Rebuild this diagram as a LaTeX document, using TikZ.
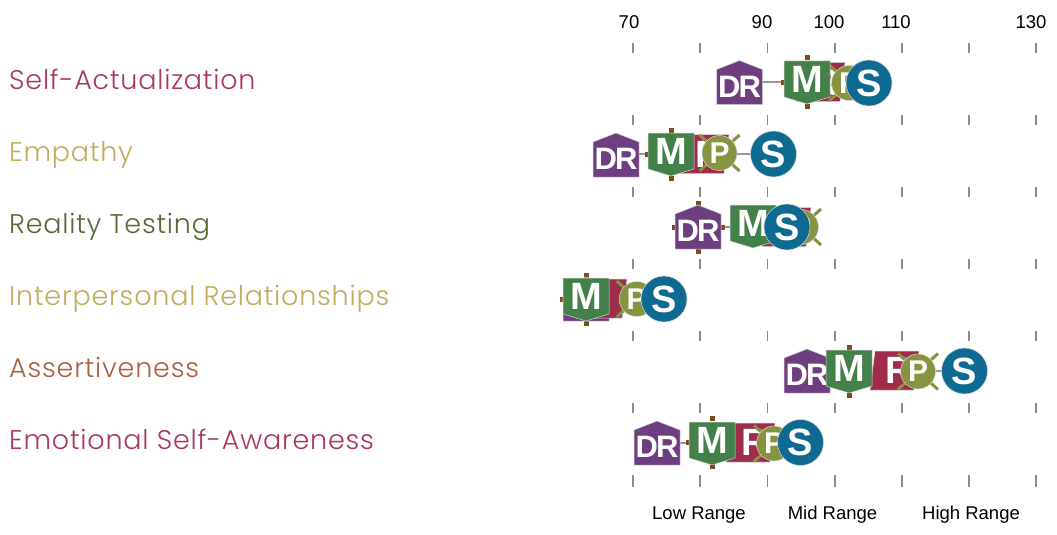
\documentclass[tikz,border=0pt]{standalone}
\usepackage{fontspec}
\setmainfont{Liberation Sans}
\newfontfamily\labfont[UprightFont=* Light,LetterSpace=2.9]{Poppins}
\definecolor{cDR}{HTML}{6E3F80}
\definecolor{cM}{HTML}{43804A}
\definecolor{cR}{HTML}{A02C4B}
\definecolor{cP}{HTML}{87933F}
\definecolor{cS}{HTML}{0F6A92}
\definecolor{cW}{HTML}{7B4D1E}
\definecolor{cRose}{HTML}{A93A56}
\definecolor{cSand}{HTML}{C0AC5C}
\definecolor{cMoss}{HTML}{556B35}
\definecolor{cRust}{HTML}{A9623C}
\definecolor{cLink}{HTML}{999999}
\tikzset{
  x=1pt,y=-1pt,
  rowlabel/.style={anchor=base west,inner sep=0pt,font=\labfont\fontsize{27}{30}\selectfont},
  axislabel/.style={inner sep=0pt,font=\fontsize{18.5}{20}\selectfont,text=black},
  tickmark/.style={draw=black!45,line width=1.2pt},
  link/.style={draw=cLink,line width=2pt},
  badge/.style={draw=white!85!black,line width=0.5pt},
  badgetext/.style={inner sep=0pt,text=white,font=\bfseries\fontsize{38}{38}\selectfont},
  smalltext/.style={inner sep=0pt,text=white,font=\bfseries\fontsize{31}{31}\selectfont},
  whisker/.style={fill=cW,draw=none},
  leg/.style={draw=cP,line width=3pt}
}
\newcommand{\whisk}[2]{%
  \foreach \dx/\dy in {0/-24,0/24,-24/0,24/0}
    \fill[whisker] ([shift={(\dx-2.5,\dy-2.5)}]#1,#2) rectangle ++(5,5);}
\newcommand{\shapeDR}[2]{%
  \filldraw[badge,fill=cDR] ([shift={(-23,22)}]#1,#2) -- ++(0,-35) -- ++(23,-9) -- ++(23,9) -- ++(0,35) -- cycle;}
\newcommand{\shapeM}[2]{%
  \filldraw[badge,fill=cM] ([shift={(-23,-21)}]#1,#2) -- ++(46,0) -- ++(0,36) -- ++(-23,7) -- ++(-23,-7) -- cycle;}
\newcommand{\shapeR}[2]{%
  \filldraw[badge,fill=cR] ([shift={(-20,-19.5)}]#1,#2) -- ++(44,0) -- ++(-5,39) -- ++(-44,0) -- cycle;}
\newcommand{\badgeDR}[3]{%
  \shapeDR{#2}{#3}
  \node[smalltext] (#1) at (#2,#3+4) {D\kern-1.8ptR};}
\newcommand{\badgeM}[3]{%
  \shapeM{#2}{#3}
  \node[badgetext] (#1) at (#2,#3-3) {M};}
\newcommand{\badgeR}[3]{%
  \shapeR{#2}{#3}
  \node[badgetext] (#1) at (#2+4,#3) {R};}
\newcommand{\badgeP}[3]{%
  \draw[leg] ([shift={(-20,-18)}]#2,#3) -- ++(40,36) ([shift={(20,-18)}]#2,#3) -- ++(-40,36);
  \filldraw[badge,fill=cP] (#2,#3) circle (17.5);
  \node[inner sep=0pt,text=white,font=\bfseries\fontsize{30}{30}\selectfont] (#1) at (#2,#3) {P};}
\newcommand{\badgeS}[3]{%
  \filldraw[badge,fill=cS] (#2,#3) circle (23);
  \node[badgetext] (#1) at (#2,#3) {S};}
\begin{document}
\begin{tikzpicture}
\useasboundingbox (0,0) rectangle (1057,535);
% ticks
\foreach \ty/\tz in {43/53,115/125,187/197,259/269,331/341,403/413,475/487}
  \foreach \tx in {633,700,767.5,835,902,969,1036}
    \draw[tickmark] (\tx,\ty) -- (\tx,\tz);
% axis labels
\node[axislabel] (a70) at (629,22) {70};
\node[axislabel] (a90) at (762,22) {90};
\node[axislabel] (a100) at (829,22) {100};
\node[axislabel] (a110) at (896,22) {110};
\node[axislabel] (a130) at (1031,22) {130};
\node[axislabel] (low) at (699,515) {Low Range};
\node[axislabel] (mid) at (832.5,515) {Mid Range};
\node[axislabel] (high) at (971,515) {High Range};
% row labels
\node[rowlabel,text=cRose] (l1) at (9,89) {Self-Actualization};
\node[rowlabel,text=cSand] (l2) at (9,161) {Empathy};
\node[rowlabel,text=cMoss] (l3) at (9,233) {Reality Testing};
\node[rowlabel,text=cSand] (l4) at (9,305) {Interpersonal Relationships};
\node[rowlabel,text=cRust] (l5) at (9,377) {Assertiveness};
\node[rowlabel,text=cRose] (l6) at (9,449) {Emotional Self-Awareness};
% connectors
\foreach \n/\a/\b/\c/\d/\e/\yy in {
  1/739.5/807/821/849/869/82,
  2/616/671/705/719.5/773.5/154,
  3/698/753/787/801/787/227,
  4/586/586/603/636.7/664/299,
  5/807/849/895/918/964.5/371,
  6/657/712/751/774/800.5/442.5}{
  \coordinate (c\n dr) at (\a,\yy);
  \coordinate (c\n m) at (\b,\yy);
  \coordinate (c\n r) at (\c,\yy);
  \coordinate (c\n p) at (\d,\yy);
  \coordinate (c\n s) at (\e,\yy);
  \draw[link] (c\n dr) -- (c\n m) -- (c\n r) -- (c\n p) -- (c\n s);
}
% whiskers
\whisk{807}{82}
\whisk{671}{154}
\whisk{698}{227}
\whisk{586}{299}
\whisk{849}{371}
\whisk{712}{442.5}
% row 1
\badgeDR{dr1}{739.5}{82.5}
\badgeR{r1}{821}{82}
\badgeP{p1}{849}{83}
\badgeM{m1}{807}{82}
\badgeS{s1}{869}{83}
% row 2
\badgeDR{dr2}{616}{155}
\badgeR{r2}{705}{154}
\badgeP{p2}{719.5}{153}
\badgeM{m2}{671}{154}
\badgeS{s2}{773.5}{154}
% row 3
\badgeDR{dr3}{698}{227}
\badgeR{r3}{787}{227}
\badgeP{p3}{801}{227}
\badgeM{m3}{753}{226}
\badgeS{s3}{787}{227}
% row 4
\shapeDR{586}{299}
\shapeR{603}{298.5}
\badgeP{p4}{636.7}{299}
\badgeM{m4}{586}{299}
\badgeS{s4}{664}{299}
% row 5
\badgeDR{dr5}{807}{371}
\badgeR{r5}{895}{370.5}
\badgeP{p5}{918}{371.5}
\badgeM{m5}{849}{371}
\badgeS{s5}{964.5}{371}
% row 6
\badgeDR{dr6}{657}{443}
\badgeR{r6}{751}{442.5}
\badgeP{p6}{774}{443.5}
\badgeM{m6}{712}{443}
\badgeS{s6}{800.5}{442.5}
\end{tikzpicture}
\end{document}
